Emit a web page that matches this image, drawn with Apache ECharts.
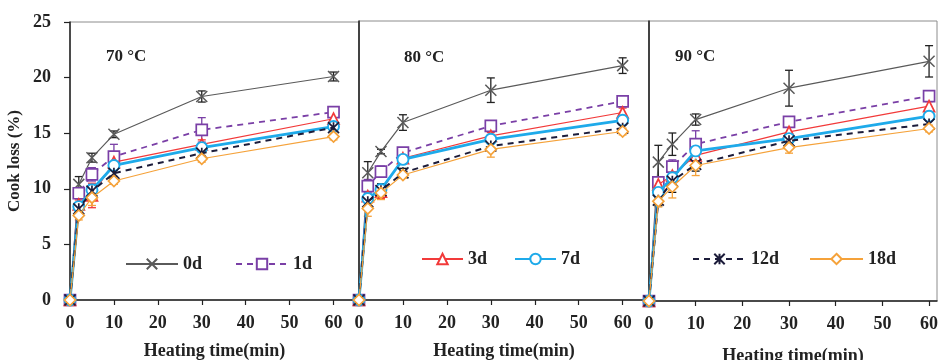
<!DOCTYPE html>
<html>
<head>
<meta charset="utf-8">
<script src="https://cdn.jsdelivr.net/npm/echarts@6/dist/echarts.min.js"></script>
<style>html,body{margin:0;padding:0;background:#fff}#c{width:939px;height:360px}</style>
</head>
<body>
<div id="c"></div>
<script>
// ---- data ----
const times = [0, 2, 5, 10, 30, 60];
const xTicks = [0, 10, 20, 30, 40, 50, 60];
const yTicks = [0, 5, 10, 15, 20, 25];
const seriesNames = ['0d', '1d', '3d', '7d', '12d', '18d'];
const panelLabels = ['70 °C', '80 °C', '90 °C'];

// cook loss (%) per storage day, order as seriesNames
const loss70 = [
  [0, 10.4, 12.8, 14.9, 18.3, 20.1],
  [0, 9.6, 11.3, 12.9, 15.3, 16.9],
  [0, 8.6, 9.4, 12.4, 14.0, 16.3],
  [0, 8.4, 9.9, 12.1, 13.7, 15.6],
  [0, 8.2, 9.8, 11.4, 13.2, 15.5],
  [0, 7.6, 9.2, 10.7, 12.7, 14.7]
];
const loss80 = [
  [0, 11.4, 13.3, 15.9, 18.8, 21.0],
  [0, 10.2, 11.5, 13.2, 15.6, 17.8],
  [0, 9.3, 9.7, 12.7, 14.7, 16.8],
  [0, 9.1, 9.9, 12.6, 14.4, 16.1],
  [0, 8.8, 9.8, 11.4, 13.8, 15.4],
  [0, 8.2, 9.6, 11.2, 13.5, 15.1]
];
const loss90 = [
  [0, 12.4, 14.0, 16.2, 19.0, 21.4],
  [0, 10.6, 12.0, 14.0, 16.0, 18.3],
  [0, 10.4, 11.2, 13.0, 15.1, 17.4],
  [0, 9.7, 11.0, 13.4, 14.5, 16.5],
  [0, 9.0, 10.7, 12.2, 14.3, 15.8],
  [0, 8.9, 10.2, 12.1, 13.7, 15.4]
];
// standard deviations (error bars)
const err70 = [
  [0, 0.7, 0.4, 0.3, 0.5, 0.4],
  [0, 0.4, 0.6, 1.1, 1.1, 0.3],
  [0, 0.4, 1.1, 0.4, 0.4, 0.3],
  [0, 0.3, 0.5, 0.4, 0.3, 0.3],
  [0, 0.3, 0.3, 0.3, 0.3, 0.3],
  [0, 0.4, 0.7, 0.3, 0.3, 0.3]
];
const err80 = [
  [0, 1.0, 0.2, 0.7, 1.1, 0.7],
  [0, 0.6, 0.5, 0.4, 0.3, 0.3],
  [0, 0.6, 0.6, 0.4, 0.3, 0.4],
  [0, 0.4, 0.5, 0.4, 0.4, 0.3],
  [0, 0.5, 0.6, 0.4, 0.4, 0.3],
  [0, 0.7, 0.6, 0.3, 0.7, 0.3]
];
const err90 = [
  [0, 1.5, 1.0, 0.5, 1.6, 1.4],
  [0, 0.5, 0.6, 1.2, 0.4, 0.3],
  [0, 0.5, 0.5, 0.5, 0.5, 0.4],
  [0, 0.5, 0.5, 0.4, 0.4, 0.3],
  [0, 0.5, 1.0, 0.6, 0.4, 0.3],
  [0, 0.5, 1.0, 0.9, 0.5, 0.3]
];

// ---- styles ----
const FONT = '"Liberation Serif", "Times New Roman", serif';
const styles = [
  {color: '#5a5a5a', err: '#222', width: 1.2, type: 'solid', symbol: 'path://M0,0L10,10M0,10L10,0', size: 11, fill: '#5a5a5a', bw: 1.5},
  {color: '#7a3fa6', err: '#7a3fa6', width: 1.8, type: [6, 5], symbol: 'rect', size: 11, fill: '#fff', bw: 1.7},
  {color: '#f23a3a', err: '#f23a3a', width: 1.2, type: 'solid', symbol: 'triangle', size: 11, fill: '#fff', bw: 1.7},
  {color: '#1eaaea', err: '#1eaaea', width: 2.8, type: 'solid', symbol: 'circle', size: 11, fill: '#fff', bw: 1.9},
  {color: '#1c1c3a', err: '#111', width: 2.0, type: [6, 5], symbol: 'path://M0,0L10,10M0,10L10,0M5,0L5,10', size: 11, fill: '#111', bw: 1.7},
  {color: '#f5a23a', err: '#f5a23a', width: 1.2, type: 'solid', symbol: 'diamond', size: 11, fill: '#fff', bw: 1.7}
];

const panels = [
  {loss: loss70, err: err70, grid: {left: 70, top: 22, width: 289, height: 278}, xmax: 65.8, gap: 42},
  {loss: loss80, err: err80, grid: {left: 359, top: 21, width: 290, height: 279}, xmax: 66, gap: 42},
  {loss: loss90, err: err90, grid: {left: 649, top: 21, width: 288, height: 280}, xmax: 61.7, gap: 46}
];

const grids = [], xAxes = [], yAxes = [], series = [], graphics = [];
panels.forEach((p, pi) => {
  grids.push(Object.assign({show: true, borderColor: '#8c8c8c', borderWidth: 1, containLabel: false, outerBoundsMode: 'none'}, p.grid));
  xAxes.push({
    type: 'value', gridIndex: pi, min: 0, max: p.xmax,
    name: 'Heating time(min)', nameLocation: 'middle', nameGap: p.gap,
    nameTextStyle: {fontFamily: FONT, fontWeight: 'bold', fontSize: 18, color: '#222'},
    axisLine: {show: true, lineStyle: {color: '#222', width: 1.5}},
    axisTick: {show: true, length: 5, customValues: xTicks, lineStyle: {color: '#222', width: 1.2}},
    axisLabel: {show: true, customValues: xTicks, margin: 14, fontFamily: FONT, fontWeight: 'bold', fontSize: 18, color: '#222'},
    splitLine: {show: false}
  });
  yAxes.push({
    type: 'value', gridIndex: pi, min: 0, max: 25, interval: 5,
    name: pi === 0 ? 'Cook loss (%)' : '', nameLocation: 'middle', nameGap: 47,
    nameTextStyle: {fontFamily: FONT, fontWeight: 'bold', fontSize: 17, color: '#222'},
    axisLine: {show: true, lineStyle: {color: '#222', width: 1.5}},
    axisTick: {show: pi === 0, length: 6, customValues: yTicks, lineStyle: {color: '#222', width: 1.2}},
    axisLabel: {show: pi === 0, customValues: yTicks, margin: 19, fontFamily: FONT, fontWeight: 'bold', fontSize: 18, color: '#222'},
    splitLine: {show: false}
  });
  // error bars
  seriesNames.forEach((nm, si) => {
    const st = styles[si];
    series.push({
      type: 'custom', name: 'err-' + nm, xAxisIndex: pi, yAxisIndex: pi, z: 2, silent: true, clip: false,
      data: times.map((t, k) => [t, p.loss[si][k], p.err[si][k]]),
      encode: {x: 0, y: 1},
      renderItem: function (params, api) {
        const x = api.value(0), y = api.value(1), e = api.value(2);
        if (!e) return null;
        const a = api.coord([x, y + e]), b = api.coord([x, y - e]);
        const s = {stroke: st.err, lineWidth: 1.3};
        return {type: 'group', children: [
          {type: 'line', shape: {x1: a[0], y1: a[1], x2: b[0], y2: b[1]}, style: s},
          {type: 'line', shape: {x1: a[0] - 4, y1: a[1], x2: a[0] + 4, y2: a[1]}, style: s},
          {type: 'line', shape: {x1: b[0] - 4, y1: b[1], x2: b[0] + 4, y2: b[1]}, style: s}
        ]};
      }
    });
  });
  seriesNames.forEach((nm, si) => {
    const st = styles[si];
    series.push({
      type: 'line', name: nm, xAxisIndex: pi, yAxisIndex: pi, z: 3 + si,
      data: times.map((t, k) => [t, p.loss[si][k]]),
      symbol: st.symbol, symbolSize: st.size, showAllSymbol: true,
      lineStyle: {color: st.color, width: st.width, type: st.type},
      itemStyle: {color: st.fill, borderColor: st.color, borderWidth: st.bw},
      emphasis: {disabled: true}, animation: false
    });
  });
  graphics.push({
    type: 'text', left: [106, 404, 675][pi], top: [48, 49, 48][pi],
    style: {text: panelLabels[pi], font: 'bold 17px ' + FONT, fill: '#222'}
  });
});

const legendText = {fontFamily: FONT, fontWeight: 'bold', fontSize: 18, color: '#222'};
const legends = [
  {data: ['0d', '1d'], left: 125, top: 255, itemWidth: 52, itemGap: 33},
  {data: ['3d', '7d'], left: 421, top: 250, itemWidth: 41, itemGap: 27},
  {data: ['12d', '18d'], left: 692, top: 250, itemWidth: 53, itemGap: 30}
].map(l => Object.assign({orient: 'horizontal', itemHeight: 13, selectedMode: false, textStyle: legendText, padding: 0}, l));

const chart = echarts.init(document.getElementById('c'), null, {renderer: 'canvas'});
chart.setOption({
  animation: false,
  backgroundColor: '#fff',
  grid: grids, xAxis: xAxes, yAxis: yAxes,
  legend: legends,
  series: series,
  graphic: graphics
});
</script>
</body>
</html>
